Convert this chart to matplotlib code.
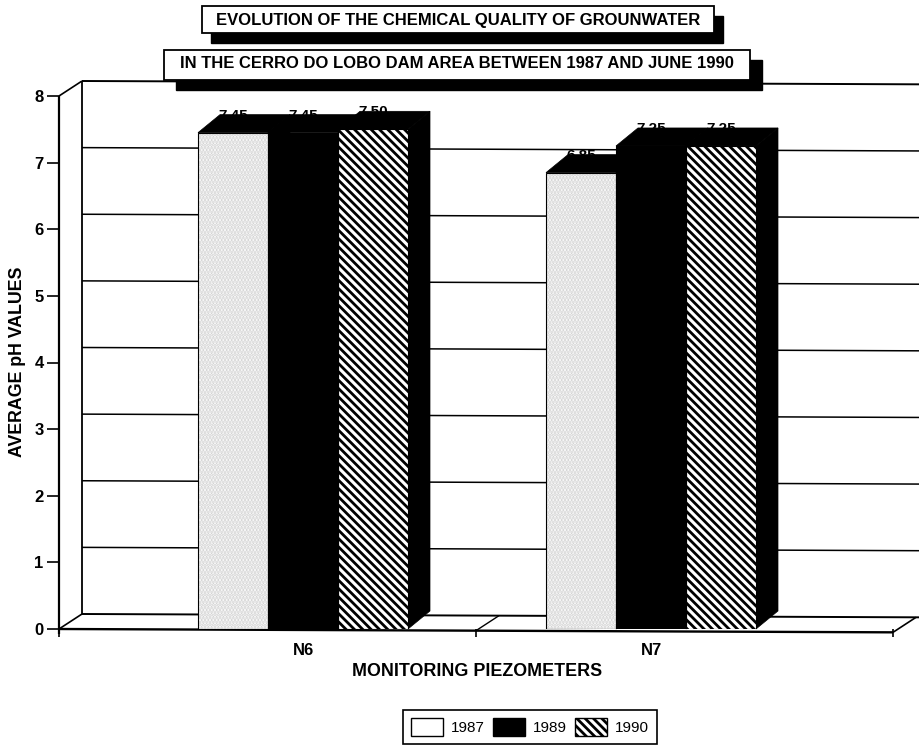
import matplotlib
matplotlib.use("Agg")
import matplotlib.pyplot as plt
from matplotlib.patches import Patch, Rectangle

plt.rcParams['font.family'] = ['Liberation Sans', 'DejaVu Sans']
plt.rcParams['hatch.linewidth'] = 2.0

W, H = 919, 745

piezometers = ["N6", "N7"]
years = ["1987", "1989", "1990"]
values_1987 = [7.45, 6.85]
values_1989 = [7.45, 7.25]
values_1990 = [7.50, 7.25]
y_ticks = [0, 1, 2, 3, 4, 5, 6, 7, 8]

title_lines = [
    "EVOLUTION OF THE CHEMICAL QUALITY OF GROUNWATER",
    "IN THE CERRO DO LOBO DAM AREA BETWEEN 1987 AND JUNE 1990",
]

PX_X = 348.0  # pixels per category
PX_Y = 66.6   # pixels per pH unit
BAR_W = 70 / PX_X
DEPTH_X = 22 / PX_X
DEPTH_Y = 18 / PX_Y
WALL_X = 23 / PX_X
WALL_Y = 15 / PX_Y
SKEW = 0.05  # the scanned page is slightly tilted


def fx(px):
    return px / W


def fy(py):
    return 1 - py / H


def title_box(text, x0, y0, x1, y1, sx, sy, text_y):
    fig = plt.gcf()
    fig.add_artist(Rectangle((fx(x0 + sx), fy(y1 + sy)), fx(x1 - x0), (y1 - y0) / H,
                             transform=fig.transFigure, fc='black', ec='black', zorder=5))
    fig.add_artist(Rectangle((fx(x0), fy(y1)), fx(x1 - x0), (y1 - y0) / H,
                             transform=fig.transFigure, fc='white', ec='black', lw=1.3, zorder=6))
    fig.text(fx((x0 + x1) / 2), fy(text_y), text, ha='center', va='center',
             fontweight='bold', fontsize=12, zorder=7)


def draw_bar(ax, x, val, face, hatch_color, hatch):
    ax.bar(x, val, BAR_W, color=face, edgecolor=hatch_color, hatch=hatch, linewidth=0, zorder=3)
    ax.bar(x, val, BAR_W, fill=False, edgecolor='black', linewidth=0.8, zorder=3.1)
    l, r = x - BAR_W / 2, x + BAR_W / 2
    # top and right faces of the 3d block
    ax.fill([l, r, r + DEPTH_X, l + DEPTH_X], [val, val, val + DEPTH_Y, val + DEPTH_Y],
            color='black', lw=0.5, zorder=2.5, clip_on=False)
    ax.fill([r, r + DEPTH_X, r + DEPTH_X, r], [0, DEPTH_Y, val + DEPTH_Y, val],
            color='black', lw=0.5, zorder=2.5, clip_on=False)
    ax.text(x, val + DEPTH_Y - 0.12, f"{val:.2f}", ha='center', va='bottom',
            fontweight='bold', fontsize=11, zorder=4, clip_on=False)


fig = plt.figure(figsize=(W / 100, H / 100), dpi=100, facecolor='white')
ax = fig.add_axes([fx(59), fy(629), (893 - 59) / W, (629 - 96) / H])

x_left = (59 - 303) / PX_X
x_right = (893 - 303) / PX_X
x_mid = (476 - 303) / PX_X
x_edge = (919 - 303) / PX_X
ax.set_xlim(x_left, x_right)
ax.set_ylim(0, 8)

for s in ax.spines.values():
    s.set_visible(False)

line = dict(color='black', clip_on=False, zorder=1, solid_capstyle='butt')

# back wall gridlines, running off the right of the page
for t in y_ticks:
    lw = 1.4 if t in (0, 8) else 1.1
    ax.plot([x_left + WALL_X, x_edge], [t + WALL_Y, t + WALL_Y - SKEW], lw=lw, **line)

# walls and floor
ax.plot([x_left, x_left], [-0.08, 8], lw=1.6, **line)
ax.plot([x_left + WALL_X] * 2, [WALL_Y, 8 + WALL_Y], lw=1.3, **line)
ax.plot([x_left, x_left + WALL_X], [8, 8 + WALL_Y], lw=1.2, **line)
ax.plot([x_left, x_left + WALL_X], [0, WALL_Y], lw=1.2, **line)
ax.plot([x_left, x_right], [0, -SKEW], lw=1.7, **line)
ax.plot([x_right, x_right + WALL_X], [-SKEW, WALL_Y - SKEW], lw=1.2, **line)
ax.plot([x_mid, x_mid + WALL_X], [-SKEW / 2, WALL_Y - SKEW / 2], lw=1.0, **line)

offsets = [-BAR_W, 0, BAR_W]
series = [values_1987, values_1989, values_1990]
faces = ['white', 'black', 'white']
hatch_colors = ['#d4d4d4', 'black', 'black']
hatches = ['.....', None, '\\\\\\\\']

for i in range(len(piezometers)):
    for off, vals, face, hc, hatch in zip(offsets, series, faces, hatch_colors, hatches):
        draw_bar(ax, i + off, vals[i], face, hc, hatch)

ax.set_yticks(y_ticks)
ax.set_yticklabels([str(t) for t in y_ticks], fontweight='bold', fontsize=12)
ax.tick_params(axis='y', length=9, width=1.2, pad=2)
ax.set_xticks(range(len(piezometers)))
ax.set_xticklabels(piezometers, fontweight='bold', fontsize=12)
ax.tick_params(axis='x', length=0, pad=10)
ax.set_xticks([x_left, x_mid, x_right], minor=True)
ax.tick_params(axis='x', which='minor', length=6, width=1.2)

fig.text(fx(477), fy(671), "MONITORING PIEZOMETERS", ha='center', va='center',
         fontweight='bold', fontsize=12.9)
fig.text(fx(17.5), fy(362), "AVERAGE pH VALUES", rotation=90, ha='center', va='center',
         fontweight='bold', fontsize=12.8)

title_box(title_lines[0], 202, 6, 714, 33, 9, 10, 20.5)
title_box(title_lines[1], 164, 50, 750, 80, 12, 10, 63.5)

handles = [
    Patch(facecolor='white', edgecolor='black', label=years[0]),
    Patch(facecolor='black', edgecolor='black', label=years[1]),
    Patch(facecolor='white', edgecolor='black', hatch='\\\\\\\\', label=years[2]),
]
leg = fig.legend(handles=handles, ncols=3, loc='center', bbox_to_anchor=(fx(530), fy(727)),
                 frameon=True, fancybox=False, edgecolor='black', framealpha=1,
                 fontsize=11, handlelength=2.1, handleheight=1.45, columnspacing=0.55,
                 handletextpad=0.5, borderpad=0.5, borderaxespad=0)
leg.get_frame().set_linewidth(1.2)

fig.savefig("out.png", dpi=100)
